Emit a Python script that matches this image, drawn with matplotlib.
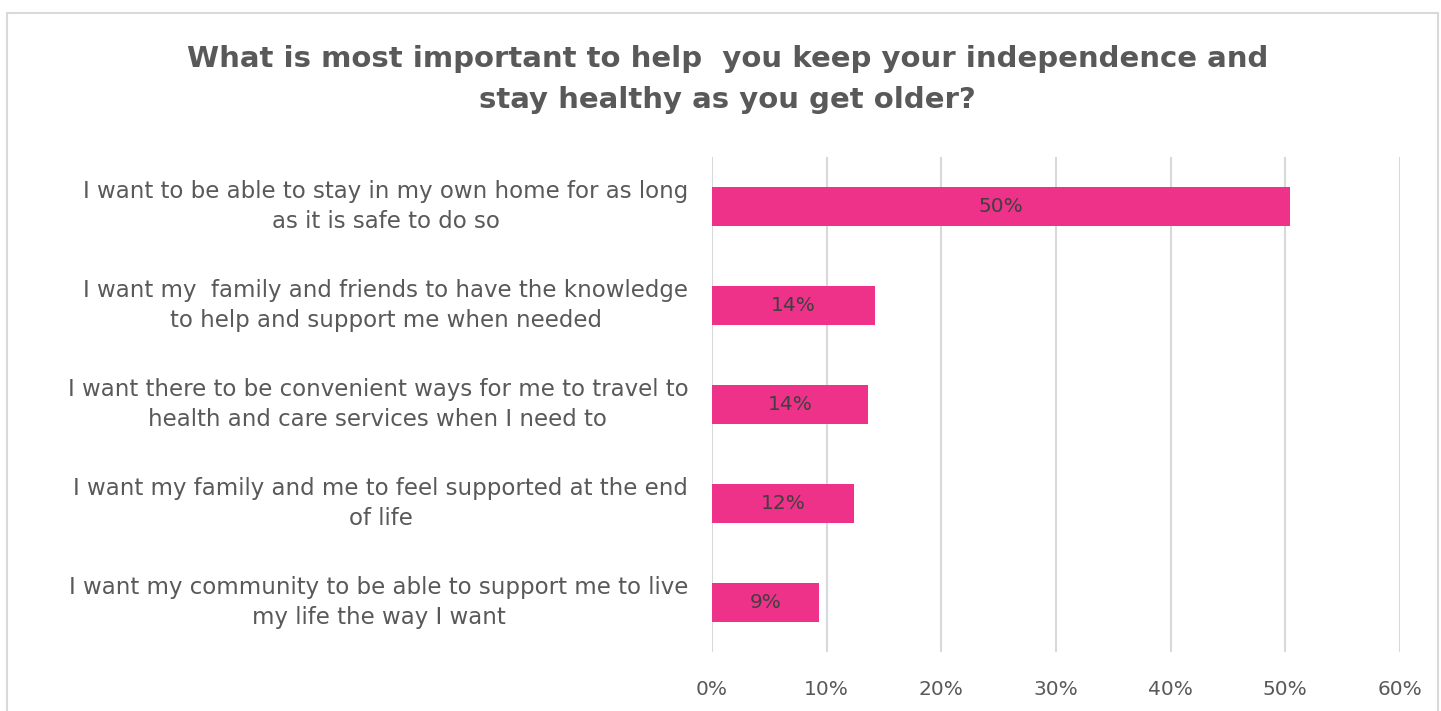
import matplotlib.pyplot as plt
from matplotlib.patches import Rectangle

# datos
categorias = [
    "I want to be able to stay in my own home for as long\nas it is safe to do so",
    "I want my  family and friends to have the knowledge\nto help and support me when needed",
    "I want there to be convenient ways for me to travel to\nhealth and care services when I need to",
    "I want my family and me to feel supported at the end\nof life",
    "I want my community to be able to support me to live\nmy life the way I want",
]
valores = [50.4, 14.2, 13.6, 12.4, 9.3]
etiquetas = ["50%", "14%", "14%", "12%", "9%"]
ticks = [0, 10, 20, 30, 40, 50, 60]

gris = "#595959"
rosa = "#EE3189"

fig = plt.figure(figsize=(14.41, 7.11), dpi=100)
ax = fig.add_axes([0.494, 0.083, 0.4776, 0.696])

y = list(range(len(categorias)))
bars = ax.barh(y, valores, height=0.4, color=rosa, zorder=3)
ax.set_ylim(4.5, -0.5)
ax.set_xlim(0, 60)

# etiquetas de datos dentro de las barras
for b, txt in zip(bars, etiquetas):
    ax.text(b.get_width() / 2, b.get_y() + b.get_height() / 2, txt,
            ha="center", va="center", fontsize=14.5, color="#404040", zorder=4)

ax.set_yticks(y)
ax.set_yticklabels(categorias, fontsize=16.5, color=gris, ha="right", va="center",
                   multialignment="center", linespacing=1.35)
ax.set_xticks(ticks)
ax.set_xticklabels([f"{t}%" for t in ticks], fontsize=14.5, color=gris)
ax.tick_params(axis="both", length=0)
ax.tick_params(axis="y", pad=17)
ax.tick_params(axis="x", pad=20)

ax.grid(axis="x", color="#D9D9D9", linewidth=1.5, zorder=0)
for s in ax.spines.values():
    s.set_visible(False)

fig.text(0.505, 0.888,
         "What is most important to help  you keep your independence and\nstay healthy as you get older?",
         ha="center", va="center", fontsize=21, fontweight="bold", color=gris,
         linespacing=1.6)

# borde
fig.patches.append(Rectangle((7 / 1441, -0.05), 1431 / 1441, 1.05 - 13 / 711,
                             transform=fig.transFigure, fill=False,
                             edgecolor="#D9D9D9", linewidth=1.5))

plt.savefig("out.png", dpi=100)
